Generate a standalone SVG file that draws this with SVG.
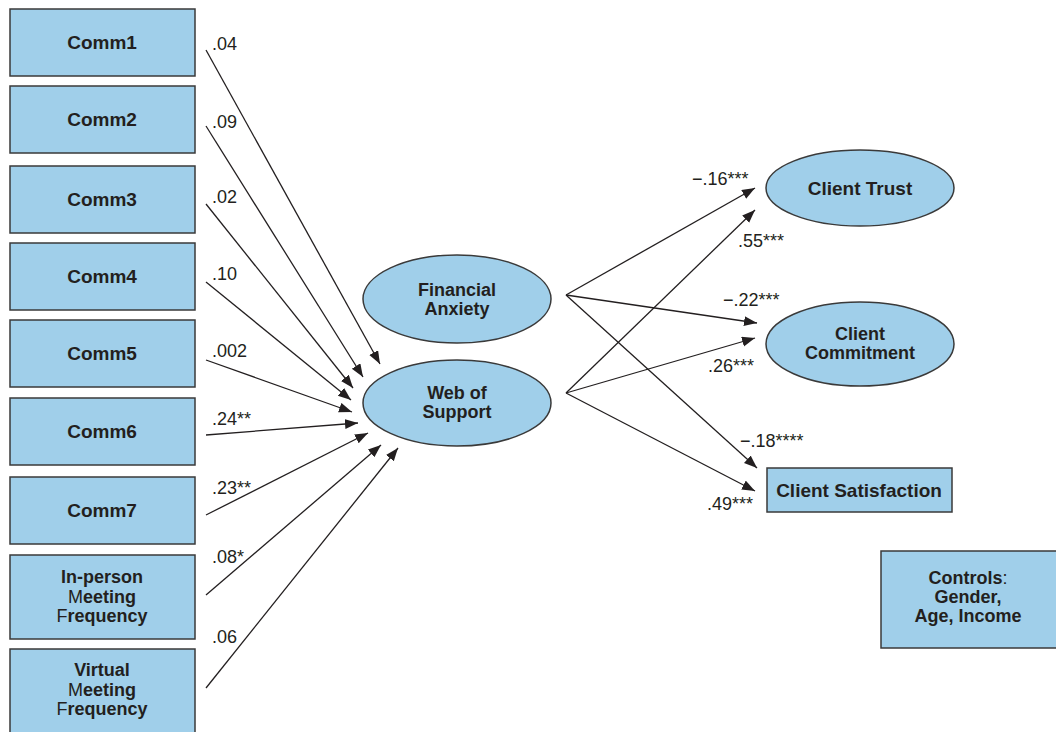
<svg xmlns="http://www.w3.org/2000/svg" width="1056" height="732" viewBox="0 0 1056 732">
<style>
.box{fill:#a0cfea;stroke:#3a3a3a;stroke-width:1.5}
.t{font-family:"Liberation Sans",Arial,sans-serif;font-size:19px;font-weight:bold;fill:#231f20;text-anchor:middle}
.m{font-size:18px}
.n{font-weight:normal}
.lbl{font-family:"Liberation Sans",Arial,sans-serif;font-size:18px;fill:#231f20}
.c line{stroke:#231f20;stroke-width:1.3;marker-end:url(#ah)}
</style>
<defs>
<marker id="ah" markerUnits="userSpaceOnUse" markerWidth="14" markerHeight="11" refX="13" refY="5" orient="auto">
<path d="M0,0 L13,5 L0,10 z" fill="#231f20"/>
</marker>
</defs>
<rect width="1056" height="732" fill="#fff"/>
<g id="comm1"><rect class="box" x="10" y="9" width="185" height="67"/><text class="t" x="102" y="49">Comm1</text></g>
<g id="comm2"><rect class="box" x="10" y="86" width="185" height="67"/><text class="t" x="102" y="126">Comm2</text></g>
<g id="comm3"><rect class="box" x="10" y="166" width="185" height="67"/><text class="t" x="102" y="206">Comm3</text></g>
<g id="comm4"><rect class="box" x="10" y="243" width="185" height="67"/><text class="t" x="102" y="283">Comm4</text></g>
<g id="comm5"><rect class="box" x="10" y="320" width="185" height="67"/><text class="t" x="102" y="360">Comm5</text></g>
<g id="comm6"><rect class="box" x="10" y="398" width="185" height="67"/><text class="t" x="102" y="438">Comm6</text></g>
<g id="comm7"><rect class="box" x="10" y="477" width="185" height="67"/><text class="t" x="102" y="517">Comm7</text></g>
<g id="inperson"><rect class="box" x="10" y="555" width="185" height="84"/>
<text class="t m" x="102" y="583">In-person</text>
<text class="t m" x="102" y="603"><tspan class="n">M</tspan>eeting</text>
<text class="t m" x="102" y="622"><tspan class="n">F</tspan>requency</text></g>
<g id="virtual"><rect class="box" x="10" y="649" width="185" height="95"/>
<text class="t m" x="102" y="676">Virtual</text>
<text class="t m" x="102" y="696"><tspan class="n">M</tspan>eeting</text>
<text class="t m" x="102" y="715"><tspan class="n">F</tspan>requency</text></g>
<g id="financial"><ellipse class="box" cx="457" cy="299" rx="94" ry="44"/>
<text class="t m" x="457" y="296">Financial</text><text class="t m" x="457" y="315">Anxiety</text></g>
<g id="web"><ellipse class="box" cx="457" cy="403" rx="94" ry="43"/>
<text class="t m" x="457" y="399">Web of</text><text class="t m" x="457" y="418">Support</text></g>
<g id="trust"><ellipse class="box" cx="860" cy="188" rx="94" ry="38"/>
<text class="t" x="860" y="195">Client Trust</text></g>
<g id="commitment"><ellipse class="box" cx="860" cy="344" rx="94" ry="42"/>
<text class="t m" x="860" y="340">Client</text><text class="t m" x="860" y="359">Commitment</text></g>
<g id="satisfaction"><rect class="box" x="767" y="468" width="185" height="44"/>
<text class="t" x="859" y="497">Client Satisfaction</text></g>
<g id="controls"><rect class="box" x="881" y="551" width="180" height="97"/>
<text class="t m" x="968" y="584">Controls<tspan class="n">:</tspan></text>
<text class="t m" x="968" y="603">Gender,</text>
<text class="t m" x="968" y="622">Age, Income</text></g>
<g id="connectors" class="c">
<line x1="206" y1="50" x2="380" y2="364"/>
<line x1="206" y1="126" x2="363" y2="377"/>
<line x1="206" y1="204" x2="353" y2="388"/>
<line x1="206" y1="282" x2="351" y2="400"/>
<line x1="206" y1="360" x2="352" y2="412"/>
<line x1="206" y1="435" x2="358" y2="423"/>
<line x1="206" y1="515" x2="368" y2="433"/>
<line x1="206" y1="595" x2="381" y2="445"/>
<line x1="206" y1="688" x2="398" y2="448"/>
<line x1="566" y1="295" x2="755" y2="188"/>
<line x1="566" y1="393" x2="755" y2="210"/>
<line x1="566" y1="295" x2="757" y2="323"/>
<line x1="566" y1="393" x2="755" y2="338"/>
<line x1="566" y1="295" x2="757" y2="468"/>
<line x1="566" y1="393" x2="755" y2="491"/>
</g>
<g id="labels" class="lbl">
<text x="212" y="50">.04</text>
<text x="212" y="128">.09</text>
<text x="212" y="203">.02</text>
<text x="212" y="280">.10</text>
<text x="212" y="357">.002</text>
<text x="212" y="425">.24**</text>
<text x="212" y="494">.23**</text>
<text x="212" y="563">.08*</text>
<text x="212" y="643">.06</text>
<text x="692" y="185">−.16***</text>
<text x="738" y="247">.55***</text>
<text x="723" y="306">−.22***</text>
<text x="708" y="372">.26***</text>
<text x="740" y="447">−.18****</text>
<text x="707" y="510">.49***</text>
</g>
</svg>
